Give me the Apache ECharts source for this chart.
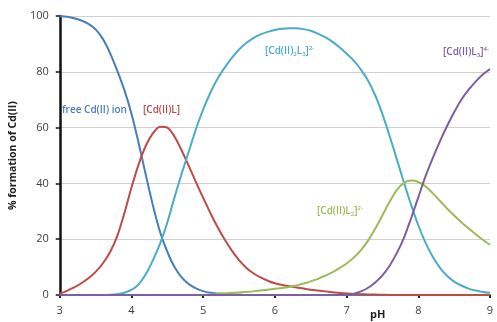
<!DOCTYPE html>
<html>
<head>
<meta charset="utf-8">
<script src="https://cdn.jsdelivr.net/npm/echarts@6/dist/echarts.min.js"></script>
<style>html,body{margin:0;padding:0;background:#fff}#c{width:497px;height:322px}</style>
</head>
<body>
<div id="c"></div>
<script>
var pH = [3.0, 3.1, 3.2, 3.3, 3.4, 3.5, 3.6, 3.7, 3.8, 3.9,
          4.0, 4.1, 4.2, 4.3, 4.4, 4.5, 4.6, 4.7, 4.8, 4.9,
          5.0, 5.1, 5.2, 5.3, 5.4, 5.5, 5.6, 5.7, 5.8, 5.9,
          6.0, 6.1, 6.2, 6.3, 6.4, 6.5, 6.6, 6.7, 6.8, 6.9,
          7.0, 7.1, 7.2, 7.3, 7.4, 7.5, 7.6, 7.7, 7.8, 7.9,
          8.0, 8.1, 8.2, 8.3, 8.4, 8.5, 8.6, 8.7, 8.8, 8.9, 9.0];
var freeCd = [100, 99.7, 99.2, 98.4, 97.2, 95.2, 91.8, 86.8, 80.5, 73.5,
              65, 54.5, 43, 32, 22.5, 15.5, 10, 6.3, 3.9, 2.4,
              1.4, 0.8, 0.5, 0.3, 0.2, 0.1, 0, 0, 0, 0,
              0, 0, 0, 0, 0, 0, 0, 0, 0, 0,
              0, 0, 0, 0, 0, 0, 0, 0, 0, 0,
              0, 0, 0, 0, 0, 0, 0, 0, 0, 0, 0];
var cdL = [0.5, 1.5, 2.7, 4.2, 6, 8.3, 11.3, 15.3, 21, 29.2,
           38.5, 46.8, 53.5, 58, 60.3, 60, 56.8, 51.8, 46.2, 40.4,
           34.8, 29.4, 24.4, 19.9, 15.9, 12.5, 9.8, 7.8, 6.3, 5.1,
           4.2, 3.6, 3.1, 2.7, 2.3, 1.9, 1.6, 1.3, 1.0, 0.7,
           0.5, 0.4, 0.3, 0.2, 0.15, 0.1, 0, 0, 0, 0,
           0, 0, 0, 0, 0, 0, 0, 0, 0, 0, 0];
var cd2L3 = [0, 0, 0, 0, 0, 0, 0, 0.1, 0.3, 0.8,
             1.8, 3.8, 7.5, 12.5, 18.5, 26, 35, 43.5, 51.5, 59.5,
             66.5, 72.5, 77.5, 81.5, 85, 88, 90.3, 92.1, 93.4, 94.3,
             95, 95.4, 95.6, 95.6, 95.3, 94.7, 93.7, 92.4, 90.8, 88.8,
             86.5, 84, 80.8, 76.8, 71.5, 64.8, 57, 48.7, 40.3, 32.3,
             25, 18.8, 13.8, 9.8, 6.9, 4.8, 3.4, 2.3, 1.6, 1.1, 0.8];
var cdL2 = [0, 0, 0, 0, 0, 0, 0, 0, 0, 0,
            0, 0, 0, 0, 0, 0, 0, 0, 0, 0,
            0, 0.2, 0.4, 0.6, 0.8, 0.9, 1.1, 1.3, 1.6, 1.9,
            2.2, 2.5, 2.9, 3.4, 4.1, 4.9, 5.8, 6.9, 8.1, 9.6,
            11.3, 13.4, 16.1, 19.5, 23.8, 28.6, 33.4, 37.6, 40.2, 41,
            40.5, 39, 36.5, 33.8, 31, 28.5, 26.1, 23.9, 21.8, 19.8, 18];
var cdL3 = [0, 0, 0, 0, 0, 0, 0, 0, 0, 0,
            0, 0, 0, 0, 0, 0, 0, 0, 0, 0,
            0, 0, 0, 0, 0, 0, 0, 0, 0, 0,
            0, 0, 0, 0, 0, 0, 0, 0, 0, 0,
            0, 0.5, 1.3, 2.6, 4.5, 7, 10.5, 15, 20.5, 27.5,
            35, 42.5, 49, 55, 60.5, 65.5, 70, 73.5, 76.5, 79, 81];

function pairs(v) { return pH.map(function (x, i) { return [x, v[i]]; }); }
var FONT = 'Open Sans';
var colors = {blue: '#4A7EBB', red: '#BE4B48', cyan: '#4BACC6', green: '#9BBB59', purple: '#7D5FA0'};

var chart = echarts.init(document.getElementById('c'), null, {renderer: 'canvas'});
function mk(name, data, color) {
  return {name: name, type: 'line', data: pairs(data), smooth: 0.3, showSymbol: false,
    lineStyle: {color: color, width: 2}, itemStyle: {color: color}};
}
function richStyle(color) {
  return {
    b: {fontFamily: FONT, fontSize: 10, fontWeight: 600, fill: color},
    sub: {fontFamily: FONT, fontSize: 6, fontWeight: 600, fill: color, padding: [7, 0, 0, 0]},
    sup: {fontFamily: FONT, fontSize: 6, fontWeight: 600, fill: color, padding: [0, 0, 6, 0]}
  };
}
chart.setOption({
  animation: false,
  grid: {left: 58, right: 7, top: 16, bottom: 27},
  xAxis: {
    type: 'value', min: 3, max: 9, interval: 1,
    axisLine: {show: true, onZero: false, lineStyle: {color: '#222', width: 1.5}},
    axisTick: {show: true, length: 3, lineStyle: {color: '#222', width: 2}},
    axisLabel: {color: '#404040', fontFamily: FONT, fontSize: 11, margin: 10},
    splitLine: {show: false}
  },
  yAxis: {
    type: 'value', min: 0, max: 100, interval: 20,
    name: '% formation of Cd(II)', nameLocation: 'middle', nameGap: 33,
    nameTextStyle: {fontFamily: FONT, fontSize: 10.5, fontWeight: 'bold', color: '#222'},
    axisLine: {show: true, lineStyle: {color: '#111', width: 2.5}},
    axisTick: {show: true, length: 4, lineStyle: {color: '#111', width: 1.5}},
    axisLabel: {color: '#404040', fontFamily: FONT, fontSize: 11, margin: 11},
    splitLine: {show: true, lineStyle: {color: '#D0D0D0', width: 1}}
  },
  series: [
    mk('free Cd(II) ion', freeCd, colors.blue),
    mk('[Cd(II)L]', cdL, colors.red),
    mk('[Cd(II)2L3]2-', cd2L3, colors.cyan),
    mk('[Cd(II)L2]2-', cdL2, colors.green),
    mk('[Cd(II)L3]4-', cdL3, colors.purple)
  ],
  graphic: [
    {type: 'text', left: 62, top: 105, style: {text: 'free Cd(II) ion', fill: colors.blue, font: '600 10px "Open Sans"'}},
    {type: 'text', left: 143, top: 105, style: {text: '[Cd(II)L]', fill: colors.red, font: '600 10px "Open Sans"'}},
    {type: 'text', left: 265, top: 45, style: {text: '{b|[Cd(II)}{sub|2}{b|L}{sub|3}{b|]}{sup|2-}', rich: richStyle(colors.cyan)}},
    {type: 'text', left: 443, top: 46, style: {text: '{b|[Cd(II)L}{sub|3}{b|]}{sup|4-}', rich: richStyle(colors.purple)}},
    {type: 'text', left: 317, top: 205, style: {text: '{b|[Cd(II)L}{sub|2}{b|]}{sup|2-}', rich: richStyle(colors.green)}},
    {type: 'text', left: 370, top: 309, style: {text: 'pH', fill: '#222', font: 'bold 11px "Open Sans"'}}
  ]
});
</script>
</body>
</html>
